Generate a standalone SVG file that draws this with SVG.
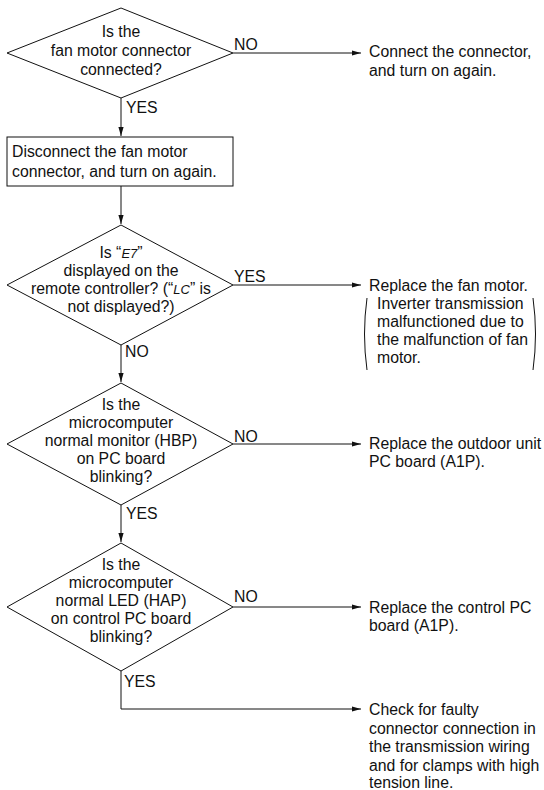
<svg xmlns="http://www.w3.org/2000/svg" width="544" height="790" viewBox="0 0 544 790">
  <style>
    .shape { fill: #fff; stroke: #111; stroke-width: 1; }
    .wire { fill: none; stroke: #111; stroke-width: 1; }
    text { font-family: "Liberation Sans", Arial, sans-serif; font-size: 15.8px; fill: #111; }
    .c { text-anchor: middle; }
    .code { font-style: italic; font-size: 13px; }
  </style>
  <defs>
    <marker id="arrow" markerUnits="userSpaceOnUse" markerWidth="10" markerHeight="6" refX="9" refY="3" orient="auto">
      <path d="M0,0.4 L9,3 L0,5.6 Z" fill="#111"/>
    </marker>
  </defs>

  <rect width="544" height="790" fill="#fff"/>

  <!-- connectors -->
  <g id="connectors">
    <path class="wire" d="M233,53 H361" marker-end="url(#arrow)"/>
    <path class="wire" d="M121,98 V136" marker-end="url(#arrow)"/>
    <path class="wire" d="M121,186 V224" marker-end="url(#arrow)"/>
    <path class="wire" d="M233,285 H361" marker-end="url(#arrow)"/>
    <path class="wire" d="M121,345 V382" marker-end="url(#arrow)"/>
    <path class="wire" d="M233,444 H361" marker-end="url(#arrow)"/>
    <path class="wire" d="M121,505 V542" marker-end="url(#arrow)"/>
    <path class="wire" d="M233,607 H361" marker-end="url(#arrow)"/>
    <path class="wire" d="M121,671 V709 H361" marker-end="url(#arrow)"/>
    <text x="234" y="50">NO</text>
    <text x="126" y="113">YES</text>
    <text x="234" y="282">YES</text>
    <text x="125" y="357">NO</text>
    <text x="234" y="442">NO</text>
    <text x="126" y="519">YES</text>
    <text x="234" y="602">NO</text>
    <text x="124" y="687">YES</text>
  </g>

  <!-- decision: connector connected -->
  <g id="q-connected">
    <polygon class="shape" points="121,8 233,53 121,98 7,53"/>
    <text class="c" x="121" y="37">Is the</text>
    <text class="c" x="121" y="56">fan motor connector</text>
    <text class="c" x="121" y="75">connected?</text>
  </g>

  <g id="r-connect">
    <text x="369" y="57">Connect the connector,</text>
    <text x="369" y="76">and turn on again.</text>
  </g>

  <!-- action: disconnect connector -->
  <g id="a-disconnect">
    <rect class="shape" x="7" y="137" width="226" height="49"/>
    <text x="12" y="157">Disconnect the fan motor</text>
    <text x="12" y="177">connector, and turn on again.</text>
  </g>

  <!-- decision: error code displayed -->
  <g id="q-e7">
    <polygon class="shape" points="121,225 233,285 121,345 7,285"/>
    <text class="c" x="121" y="258">Is “<tspan class="code">E7</tspan>”</text>
    <text class="c" x="121" y="276">displayed on the</text>
    <text class="c" x="121" y="294">remote controller? (“<tspan class="code">LC</tspan>” is</text>
    <text class="c" x="121" y="312">not displayed?)</text>
  </g>

  <g id="r-fan-motor">
    <text x="369" y="291">Replace the fan motor.</text>
    <path class="wire" d="M367,298 Q362,334 367,370"/>
    <text x="377" y="309">Inverter transmission</text>
    <text x="377" y="327">malfunctioned due to</text>
    <text x="377" y="345">the malfunction of fan</text>
    <text x="377" y="363">motor.</text>
    <path class="wire" d="M533,298 Q538,334 533,370"/>
  </g>

  <!-- decision: HBP blinking -->
  <g id="q-hbp">
    <polygon class="shape" points="121,383 233,444 121,505 7,444"/>
    <text class="c" x="121" y="410">Is the</text>
    <text class="c" x="121" y="428">microcomputer</text>
    <text class="c" x="121" y="446">normal monitor (HBP)</text>
    <text class="c" x="121" y="464">on PC board</text>
    <text class="c" x="121" y="482">blinking?</text>
  </g>

  <g id="r-outdoor-pcb">
    <text x="369" y="449">Replace the outdoor unit</text>
    <text x="369" y="467">PC board (A1P).</text>
  </g>

  <!-- decision: HAP blinking -->
  <g id="q-hap">
    <polygon class="shape" points="121,543 233,607 121,671 7,607"/>
    <text class="c" x="121" y="570">Is the</text>
    <text class="c" x="121" y="588">microcomputer</text>
    <text class="c" x="121" y="606">normal LED (HAP)</text>
    <text class="c" x="121" y="624">on control PC board</text>
    <text class="c" x="121" y="642">blinking?</text>
  </g>

  <g id="r-control-pcb">
    <text x="369" y="613">Replace the control PC</text>
    <text x="369" y="631">board (A1P).</text>
  </g>

  <g id="r-check-wiring">
    <text x="369" y="715">Check for faulty</text>
    <text x="369" y="733.5">connector connection in</text>
    <text x="369" y="752">the transmission wiring</text>
    <text x="369" y="770.5">and for clamps with high</text>
    <text x="369" y="788">tension line.</text>
  </g>
</svg>
